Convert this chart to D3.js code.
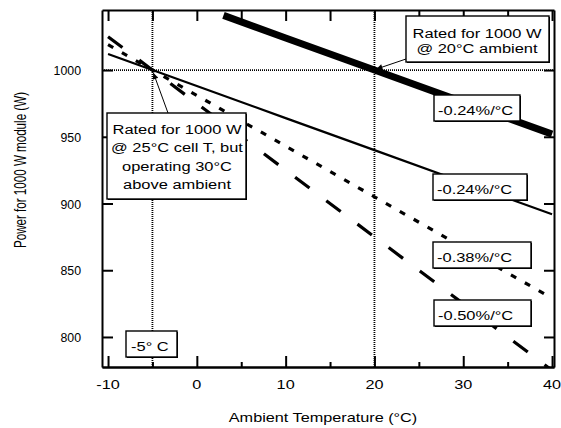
<!DOCTYPE html>
<html>
<head>
<meta charset="utf-8">
<script src="https://cdn.jsdelivr.net/npm/d3@7"></script>
<style>
body { margin: 0; background: #fff; }
text { font-family: "Liberation Sans", Arial, sans-serif; fill: #000; }
</style>
</head>
<body>
<svg width="561" height="428"></svg>
<script>
// ---- data ----
var temps = [-10, 0, 10, 20, 30, 40];
var ratedAmbTemps = [3, 10, 20, 30, 40];
var ratedAmbPower = [1041, 1024, 1000, 976, 952];   // rated @ 20C ambient, -0.24%/C
var solidPower = [1012, 988, 964, 940, 916, 892];     // -0.24%/C
var dotPower = [1019, 981, 943, 905, 867, 829];       // -0.38%/C
var dashPower = [1025, 975, 925, 875, 825, 775];      // -0.50%/C

var xTicks = [-10, 0, 10, 20, 30, 40];
var xMinorTicks = [-5, 5, 15, 25, 35];
var yTicks = [800, 850, 900, 950, 1000];
var refTemps = [-5, 20];
var refPower = 1000;

var slopeLabels = ['-0.24%/°C', '-0.24%/°C', '-0.38%/°C', '-0.50%/°C'];
var noteAmbient = ['Rated for 1000 W', '@ 20°C ambient'];
var noteCell = ['Rated for 1000 W', '@ 25°C cell T, but', 'operating 30°C', 'above ambient'];
var noteMinus5 = '-5° C';

var svg = d3.select('svg');

// plot frame
var frame = {l: 102, r: 554, t: 10, b: 367};
var sx = 1.25; // the picture is stretched sideways

var xScale = d3.scaleLinear()
    .domain([-10.68, 40.22])
    .range([frame.l, frame.r]);
var yScale = d3.scaleLinear()
    .domain([777.5, 1045])
    .range([frame.b, frame.t]);

var defs = svg.append('defs');
defs.append('clipPath').attr('id', 'plot-clip')
    .append('rect')
    .attr('x', frame.l).attr('y', frame.t)
    .attr('width', frame.r - frame.l).attr('height', frame.b - frame.t);
defs.append('marker')
    .attr('id', 'arrow')
    .attr('viewBox', '0 0 10 10')
    .attr('refX', 10).attr('refY', 5)
    .attr('markerWidth', 10).attr('markerHeight', 6)
    .attr('markerUnits', 'userSpaceOnUse')
    .attr('orient', 'auto')
    .append('path')
    .attr('d', 'M0,0 L10,5 L0,10 z')
    .attr('fill', '#000');

// dotted reference lines
var refG = svg.append('g').attr('clip-path', 'url(#plot-clip)');
refG.selectAll('.vref')
    .data(refTemps)
    .enter().append('line')
    .attr('class', 'vref')
    .attr('x1', function(d) { return xScale(d); })
    .attr('x2', function(d) { return xScale(d); })
    .attr('y1', frame.t).attr('y2', frame.b)
    .attr('stroke', '#000').attr('stroke-width', 1.8)
    .attr('stroke-dasharray', '1,1');
refG.append('line')
    .attr('x1', frame.l).attr('x2', frame.r)
    .attr('y1', yScale(refPower)).attr('y2', yScale(refPower))
    .attr('stroke', '#000').attr('stroke-width', 1.8)
    .attr('stroke-dasharray', '1,1');

// axes (all ticks point inward)
function styleAxis(g) {
    g.select('.domain').attr('stroke-width', 2);
    g.selectAll('.tick line').attr('stroke-width', 2);
    g.selectAll('.tick text').remove();
}

svg.append('g')
    .attr('transform', 'translate(0,' + frame.b + ')')
    .call(d3.axisBottom(xScale).tickValues(xMinorTicks).tickSizeInner(-5).tickSizeOuter(0))
    .call(styleAxis);
svg.append('g')
    .attr('transform', 'translate(0,' + frame.b + ')')
    .call(d3.axisBottom(xScale).tickValues(xTicks).tickSizeInner(-11).tickSizeOuter(0))
    .call(styleAxis);
svg.append('g')
    .attr('transform', 'translate(0,' + frame.t + ')')
    .call(d3.axisTop(xScale).tickValues(xTicks.concat(xMinorTicks)).tickSizeInner(-11).tickSizeOuter(0))
    .call(styleAxis);
svg.append('g')
    .attr('transform', 'translate(' + frame.l + ',0)')
    .call(d3.axisLeft(yScale).tickValues(yTicks).tickSizeInner(-11).tickSizeOuter(0))
    .call(styleAxis);
svg.append('g')
    .attr('transform', 'translate(' + frame.r + ',0)')
    .call(d3.axisRight(yScale).tickValues(yTicks).tickSizeInner(-10).tickSizeOuter(0))
    .call(styleAxis);

// tick labels
svg.selectAll('.xlab')
    .data(xTicks)
    .enter().append('text')
    .attr('class', 'xlab')
    .attr('text-anchor', 'middle')
    .attr('font-size', 12.5)
    .attr('transform', function(d) { return 'translate(' + xScale(d) + ',' + 389 + ') scale(1.3,1)'; })
    .text(function(d) { return d; });
svg.selectAll('.ylab')
    .data(yTicks)
    .enter().append('text')
    .attr('class', 'ylab')
    .attr('text-anchor', 'end')
    .attr('font-size', 13)
    .attr('transform', function(d) { return 'translate(' + 81 + ',' + (yScale(d) + 5) + ') scale(0.95,1)'; })
    .text(function(d) { return d; });

// axis titles
svg.append('text')
    .attr('text-anchor', 'middle')
    .attr('font-size', 13)
    .attr('transform', 'translate(323,422) scale(' + sx + ',1)')
    .text('Ambient Temperature (°C)');
svg.append('text')
    .attr('text-anchor', 'middle')
    .attr('font-size', 11.6)
    .attr('transform', 'translate(26,170) scale(1.4,1) rotate(-90)')
    .text('Power for 1000 W module (W)');

// data lines
var plotG = svg.append('g').attr('clip-path', 'url(#plot-clip)');
var line = d3.line()
    .x(function(d) { return xScale(d[0]); })
    .y(function(d) { return yScale(d[1]); });

plotG.append('path')
    .datum(d3.zip(ratedAmbTemps, ratedAmbPower))
    .attr('d', line)
    .attr('fill', 'none').attr('stroke', '#000').attr('stroke-width', 7);
plotG.append('path')
    .datum(d3.zip(temps, solidPower))
    .attr('d', line)
    .attr('fill', 'none').attr('stroke', '#000').attr('stroke-width', 2.2);
plotG.append('path')
    .datum(d3.zip(temps, dotPower))
    .attr('d', line)
    .attr('fill', 'none').attr('stroke', '#000').attr('stroke-width', 3.2)
    .attr('stroke-dasharray', '6,10');
plotG.append('path')
    .datum(d3.zip(temps, dashPower))
    .attr('d', line)
    .attr('fill', 'none').attr('stroke', '#000').attr('stroke-width', 3.2)
    .attr('stroke-dasharray', '18,21');

// annotation boxes
function box(x, y, w, h) {
    var g = svg.append('g');
    g.append('rect')
        .attr('x', x + 1).attr('y', y + 1).attr('width', w).attr('height', h)
        .attr('fill', '#000');
    g.append('rect')
        .attr('x', x).attr('y', y).attr('width', w).attr('height', h)
        .attr('fill', '#fff').attr('stroke', '#000').attr('stroke-width', 1.4);
    return g;
}
function boxText(g, lines, cx, y0, dy, anchor) {
    g.selectAll('.bt')
        .data(lines)
        .enter().append('text')
        .attr('class', 'bt')
        .attr('text-anchor', anchor)
        .attr('font-size', 13.5)
        .attr('transform', function(d, i) { return 'translate(' + cx + ',' + (y0 + i * dy) + ') scale(1.22,1)'; })
        .text(function(d) { return d; });
}

var slopeBoxes = [[434, 95, 86], [433, 174, 94], [433, 242, 98], [434, 300, 97]];
slopeBoxes.forEach(function(b, i) {
    var g = box(b[0], b[1], b[2], 26);
    boxText(g, [slopeLabels[i]], b[0] + 4, b[1] + 20, 0, 'start');
});

// arrows to the rated points
svg.append('line')
    .attr('x1', 406).attr('y1', 59)
    .attr('x2', xScale(20) + 2).attr('y2', yScale(refPower) - 1)
    .attr('stroke', '#000').attr('stroke-width', 1)
    .attr('marker-end', 'url(#arrow)');
svg.append('line')
    .attr('x1', 168).attr('y1', 113)
    .attr('x2', xScale(-5) + 1).attr('y2', yScale(refPower) + 3)
    .attr('stroke', '#000').attr('stroke-width', 1)
    .attr('marker-end', 'url(#arrow)');

var g1 = box(406, 16, 143, 46);
boxText(g1, noteAmbient, 477, 38, 14.5, 'middle');

var g2 = box(107, 113, 139, 86);
boxText(g2, noteCell, 177, 134, 18.3, 'middle');

var g3 = box(126, 331, 51, 26);
boxText(g3, [noteMinus5], 131, 351, 0, 'start');
</script>
</body>
</html>
